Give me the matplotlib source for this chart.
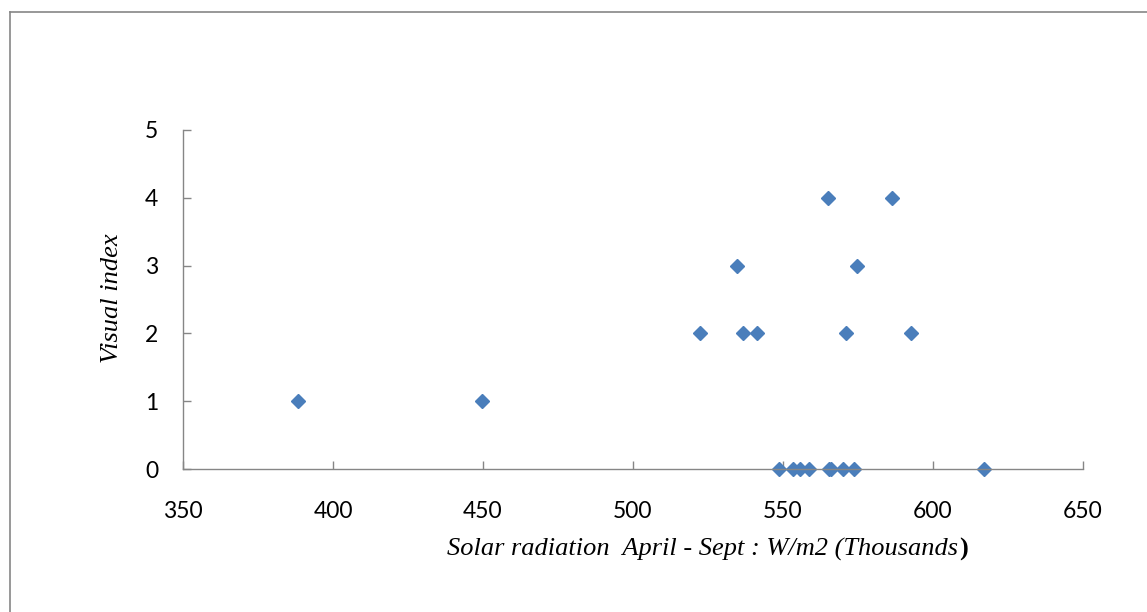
import matplotlib
matplotlib.use("Agg")
import matplotlib.pyplot as plt
from matplotlib.lines import Line2D

# Data
solar_radiation = [388.3, 449.7, 522.3, 536.7, 541.3, 571.0, 592.7, 534.7, 574.7,
                   565.0, 586.3, 548.7, 553.3, 555.7, 558.7, 565.3, 566.0, 570.0,
                   573.7, 617.0]
visual_index = [1, 1, 2, 2, 2, 2, 2, 3, 3,
                4, 4, 0, 0, 0, 0, 0, 0, 0,
                0, 0]
x_ticks = [350, 400, 450, 500, 550, 600, 650]
y_ticks = [0, 1, 2, 3, 4, 5]

W, H = 1147, 612
fig = plt.figure(figsize=(W / 100, H / 100), dpi=100)
ax = fig.add_axes([183 / W, 1 - 469 / H, 900 / W, 339 / H])

ax.plot(solar_radiation, visual_index, linestyle="none", marker="D",
        markersize=7.6, color="#4A7EBB", markeredgecolor="#4A7EBB", clip_on=False)

ax.set_xlim(350, 650)
ax.set_ylim(0, 5)
ax.set_xticks(x_ticks)
ax.set_yticks(y_ticks)
axis_color = "#868686"
for s in ["top", "right"]:
    ax.spines[s].set_visible(False)
for s in ["left", "bottom"]:
    ax.spines[s].set_color(axis_color)
    ax.spines[s].set_linewidth(1.0)
ax.tick_params(axis="both", direction="in", length=6, width=1.0, color=axis_color,
               labelsize=16.5, labelcolor="black")
ax.tick_params(axis="x", pad=23)
ax.tick_params(axis="y", pad=18)
for lab in ax.get_xticklabels() + ax.get_yticklabels():
    lab.set_family(["Lato", "DejaVu Sans"])

serif = ["Liberation Serif", "DejaVu Serif"]
xl = fig.text(447 / W, 1 - 556 / H, "Solar radiation  April - Sept : W/m2 (Thousands",
              family=serif, style="italic", fontsize=19, ha="left", va="baseline")
ax.annotate(")", xy=(1, 0), xycoords=xl, xytext=(0.5, 0), textcoords="offset points",
            family=serif, fontweight="bold", fontsize=19, ha="left", va="bottom",
            annotation_clip=False)

fig.text(112 / W, 1 - 298 / H, "Visual index", family=serif, style="italic",
         fontsize=19, rotation=90, ha="center", va="center")

# outer chart frame (only top and left edges visible in the image)
fig.add_artist(Line2D([10 / W, 10 / W], [0, 1 - 12 / H], transform=fig.transFigure,
                      color=axis_color, linewidth=1.2))
fig.add_artist(Line2D([10 / W, 1], [1 - 12 / H, 1 - 12 / H], transform=fig.transFigure,
                      color=axis_color, linewidth=1.2))

fig.savefig("out.png", dpi=100)
